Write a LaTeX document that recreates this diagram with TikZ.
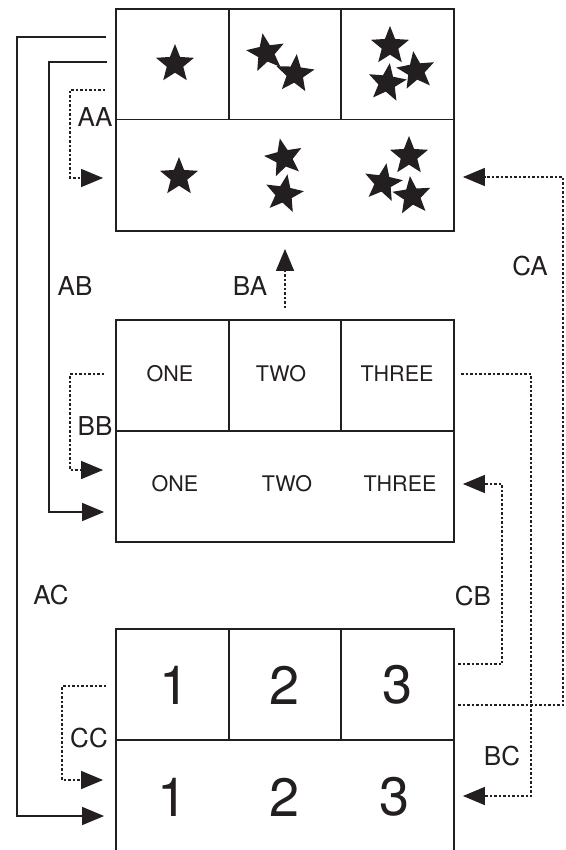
\documentclass[tikz,border=0pt]{standalone}
\usepackage{fontspec}
\setmainfont{TeX Gyre Heros}
\usetikzlibrary{arrows.meta,shapes.geometric}
\definecolor{ink}{HTML}{231F20}
\tikzset{
  cell/.style={draw=ink, line width=1.8pt, rectangle, inner sep=0pt, fill=none},
  sstar/.style={star, star points=5, star point ratio=2.3, fill=ink, draw=none, minimum size=40pt, inner sep=0pt},
  lab/.style={font=\fontsize{26}{30}\selectfont, text=ink, inner sep=0pt},
  word/.style={font=\fontsize{21.5}{26}\selectfont, text=ink, inner sep=0pt},
  num/.style={font=\fontsize{54}{60}\selectfont, text=ink, inner sep=0pt},
  tip/.style={-{Triangle[length=22pt,width=18pt]}},
  solidc/.style={draw=ink, line width=1.5pt, tip, shorten >=11pt},
  dotc/.style={draw=ink, line width=1.4pt, dash pattern=on 2.5pt off 2pt, tip},
}
\begin{document}
\begin{tikzpicture}[x=1pt,y=-1pt]
\useasboundingbox (0,0) rectangle (565,850);
% ---- Block A ----
\node[cell, minimum width=113pt, minimum height=110.5pt] (A1) at (172.5,64.25) {};
\node[cell, minimum width=112pt, minimum height=110.5pt] (A2) at (285,64.25) {};
\node[cell, minimum width=113pt, minimum height=110.5pt] (A3) at (397.5,64.25) {};
\node[cell, minimum width=338pt, minimum height=111.5pt] (Abot) at (285,175.25) {};
% stars
\node[sstar] (sa1) at (175,64) {};
\node[sstar, rotate=10] (sa2) at (266,53) {};
\node[sstar, rotate=-5] (sa3) at (295,74) {};
\node[sstar] (sa4) at (390,46) {};
\node[sstar, rotate=8] (sa5) at (416,71) {};
\node[sstar, rotate=-8] (sa6) at (387,83) {};
\node[sstar] (sb1) at (179,177) {};
\node[sstar, rotate=12] (sb2) at (284,158) {};
\node[sstar, rotate=-10] (sb3) at (284,194) {};
\node[sstar] (sb4) at (409,156) {};
\node[sstar, rotate=-10] (sb5) at (383,183) {};
\node[sstar, rotate=6] (sb6) at (412,196) {};
% ---- Block B ----
\node[cell, minimum width=113pt, minimum height=111pt] (B1) at (172.5,375.5) {};
\node[cell, minimum width=112pt, minimum height=111pt] (B2) at (285,375.5) {};
\node[cell, minimum width=113pt, minimum height=111pt] (B3) at (397.5,375.5) {};
\node[cell, minimum width=338pt, minimum height=111pt] (Bbot) at (285,486.5) {};
\node[word] (w1) at (170,374) {ONE};
\node[word] (w2) at (281,374) {TWO};
\node[word] (w3) at (397,374) {THREE};
\node[word] (w4) at (175,484) {ONE};
\node[word] (w5) at (287,484) {TWO};
\node[word] (w6) at (400,484) {THREE};
% ---- Block C ----
\node[cell, minimum width=113pt, minimum height=111pt] (C1) at (172.5,684.5) {};
\node[cell, minimum width=112pt, minimum height=111pt] (C2) at (285,684.5) {};
\node[cell, minimum width=113pt, minimum height=111pt] (C3) at (397.5,684.5) {};
\node[cell, minimum width=338pt, minimum height=113pt] (Cbot) at (285,796.5) {};
\node[num] (n1) at (175,685) {1};
\node[num] (n2) at (285,685) {2};
\node[num] (n3) at (398,685) {3};
\node[num] (n4) at (173,797) {1};
\node[num] (n5) at (285,797) {2};
\node[num] (n6) at (395,797) {3};
% ---- free ends ----
\coordinate (acS) at (106,37);
\coordinate (abS) at (107,62);
\coordinate (aaS) at (105,90);
\coordinate (baS) at (285,308);
\coordinate (bbS) at (104,374);
\coordinate (ccS) at (106,686);
\coordinate (caS) at (458,705);
\coordinate (cbS) at (458,664);
\coordinate (bcS) at (461,374);
% ---- connectors ----
\draw[solidc] (acS) -- (17,37) -- (17,816) -- (Cbot.west |- 0,816);
\draw[solidc] (abS) -- (49,62) -- (49,512) -- (Bbot.west |- 0,512);
\draw[dotc, shorten >=12pt] (aaS) -- (70,90) -- (70,178) -- (Abot.west |- 0,178);
\draw[dotc, shorten >=17pt] (baS) -- (Abot.south);
\draw[dotc, shorten >=12pt] (bbS) -- (70,374) -- (70,470) -- (Bbot.west |- 0,470);
\draw[dotc, shorten >=12pt] (ccS) -- (62,686) -- (62,780) -- (Cbot.west |- 0,780);
\draw[dotc, shorten >=8pt] (caS) -- (563,705) -- (563,177) -- (Abot.east |- 0,177);
\draw[dotc, shorten >=8pt] (cbS) -- (502,664) -- (502,484) -- (Bbot.east |- 0,484);
\draw[dotc, shorten >=8pt] (bcS) -- (531,374) -- (531,796) -- (Cbot.east |- 0,796);
% ---- labels ----
\node[lab] (lAA) at (95,117.5) {AA};
\node[lab] (lBB) at (95,426) {BB};
\node[lab] (lCC) at (89,738) {CC};
\node[lab] (lAB) at (75,286) {AB};
\node[lab] (lBA) at (250,286) {BA};
\node[lab] (lAC) at (51,595) {AC};
\node[lab] (lCA) at (530,266) {CA};
\node[lab] (lCB) at (473,596) {CB};
\node[lab] (lBC) at (502,756) {BC};
\end{tikzpicture}
\end{document}
